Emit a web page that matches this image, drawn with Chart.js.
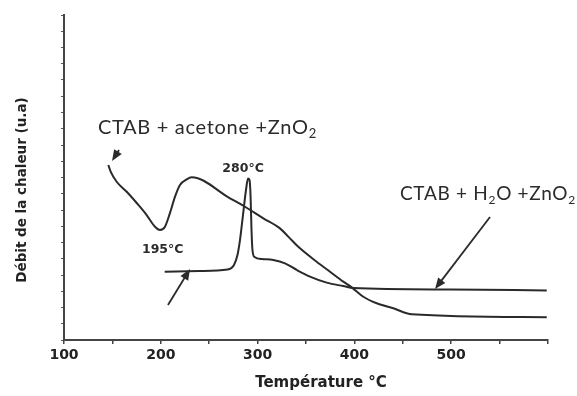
<!DOCTYPE html>
<html>
<head>
<meta charset="utf-8">
<script src="https://cdn.jsdelivr.net/npm/chart.js@4/dist/chart.umd.min.js"></script>
<style>
  body { margin: 0; background: #fff; }
  #wrap { width: 577px; height: 396px; }
</style>
</head>
<body>
<div id="wrap"><canvas id="myChart" width="577" height="396"></canvas></div>
<script>
// temperature (°C) and heat flow (a.u.)
const tempAcetone = [145.8, 148.2, 154.4, 164.8, 175.1, 185.4, 194.0, 199.2, 204.3, 209.5, 214.7, 219.8, 226.8, 231.9, 271.5, 287.0, 305.9, 323.1, 331.7, 343.8, 361.0, 374.8, 388.5, 397.2, 409.2, 423.0, 440.2, 459.2, 598.7]
const heatAcetone = [10.77, 10.36, 9.74, 9.12, 8.43, 7.69, 6.97, 6.77, 6.97, 7.82, 8.82, 9.54, 9.89, 10.01, 8.72, 8.20, 7.49, 6.87, 6.36, 5.64, 4.82, 4.20, 3.59, 3.24, 2.66, 2.26, 1.95, 1.58, 1.40]

const tempWater = [204.0, 240.0, 269.0, 275.6, 279.2, 281.8, 284.9, 288.0, 290.1, 291.6, 292.7, 293.7, 294.7, 296.8, 304.5, 316.2, 328.3, 340.4, 354.1, 371.4, 388.5, 398.9, 498.8, 598.7]
const heatWater = [4.20, 4.25, 4.34, 4.62, 5.23, 6.15, 7.69, 9.23, 9.94, 9.85, 8.92, 6.77, 5.54, 5.11, 4.98, 4.92, 4.72, 4.31, 3.90, 3.53, 3.32, 3.20, 3.11, 3.05]

const xTickLabels = ['100', '200', '300', '400', '500']

// labels and arrows placed in data units
const labels = [
  { parts: [['CTAB + acetone +ZnO', 0], ['2', 1]], x: 135, y: 12.68, size: 20 },
  { parts: [['CTAB + H', 0], ['2', 1], ['O +ZnO', 0], ['2', 1]], x: 447, y: 8.62, size: 19 },
  { parts: [['280°C', 0]], x: 285, y: 10.35, bold: true, center: true },
  { parts: [['195°C', 0]], x: 202, y: 5.35, bold: true, center: true }
]
const arrows = [
  { from: [156.8, 11.69], to: [149.6, 11.02] },
  { from: [207.4, 2.15], to: [230.2, 4.37] },
  { from: [540.1, 7.57], to: [483.3, 3.14] }
]

const toPoints = (xs, ys) => xs.map((x, i) => ({ x: x, y: ys[i] }))

const notesPlugin = {
  id: 'notes',
  afterDatasetsDraw(chart) {
    const ctx = chart.ctx
    const sx = chart.scales.x
    const sy = chart.scales.y
    ctx.save()
    ctx.fillStyle = '#2b2b2b'
    ctx.strokeStyle = '#2b2b2b'

    labels.forEach((lb) => {
      const big = lb.bold ? 'bold 12.5px "DejaVu Sans"' : lb.size + 'px Lato'
      const small = lb.bold ? 'bold 9px "DejaVu Sans"' : Math.round(lb.size * 0.65) + 'px Lato'
      ctx.letterSpacing = lb.bold ? '0px' : '0.7px'
      let total = 0
      lb.parts.forEach((p) => {
        ctx.font = p[1] ? small : big
        total += ctx.measureText(p[0]).width
      })
      let px = sx.getPixelForValue(lb.x)
      if (lb.center) px -= total / 2
      const py = sy.getPixelForValue(lb.y)
      ctx.textBaseline = 'alphabetic'
      ctx.textAlign = 'left'
      lb.parts.forEach((p) => {
        ctx.font = p[1] ? small : big
        ctx.fillText(p[0], px, py + (p[1] ? 4 : 0))
        px += ctx.measureText(p[0]).width
      })
    })
    ctx.letterSpacing = '0px'

    arrows.forEach((a) => {
      const x1 = sx.getPixelForValue(a.from[0])
      const y1 = sy.getPixelForValue(a.from[1])
      const x2 = sx.getPixelForValue(a.to[0])
      const y2 = sy.getPixelForValue(a.to[1])
      const ang = Math.atan2(y2 - y1, x2 - x1)
      ctx.lineWidth = 1.8
      ctx.beginPath()
      ctx.moveTo(x1, y1)
      ctx.lineTo(x2 - 8 * Math.cos(ang), y2 - 8 * Math.sin(ang))
      ctx.stroke()
      ctx.beginPath()
      ctx.moveTo(x2, y2)
      ctx.lineTo(x2 - 11 * Math.cos(ang) + 4.5 * Math.sin(ang), y2 - 11 * Math.sin(ang) - 4.5 * Math.cos(ang))
      ctx.lineTo(x2 - 11 * Math.cos(ang) - 4.5 * Math.sin(ang), y2 - 11 * Math.sin(ang) + 4.5 * Math.cos(ang))
      ctx.closePath()
      ctx.fill()
    })

    // axis titles
    ctx.fillStyle = '#222'
    ctx.font = 'bold 15px "DejaVu Sans"'
    ctx.textAlign = 'center'
    ctx.textBaseline = 'middle'
    ctx.fillText('Température °C', 321, 383)
    ctx.translate(22, 190)
    ctx.rotate(-Math.PI / 2)
    ctx.font = 'bold 13.5px "DejaVu Sans"'
    ctx.fillText('Débit de la chaleur (u.a)', 0, 0)
    ctx.restore()
  }
}

var ctx = document.getElementById('myChart').getContext('2d')
var chart = new Chart(ctx, {
  type: 'line',
  data: {
    datasets: [{
      label: 'CTAB + acetone + ZnO2',
      data: toPoints(tempAcetone, heatAcetone),
      borderColor: '#2a2a2a',
      borderWidth: 2,
      pointRadius: 0,
      cubicInterpolationMode: 'monotone',
      fill: false
    },
    {
      label: 'CTAB + H2O + ZnO2',
      data: toPoints(tempWater, heatWater),
      borderColor: '#2a2a2a',
      borderWidth: 2,
      pointRadius: 0,
      cubicInterpolationMode: 'monotone',
      fill: false
    }]
  },
  options: {
    responsive: false,
    animation: false,
    layout: { padding: { top: 15, right: 29, left: 0, bottom: 0 } },
    plugins: { legend: { display: false }, tooltip: { enabled: false } },
    scales: {
      x: {
        type: 'linear',
        min: 100,
        max: 600,
        afterFit: (scale) => { scale.height = 56 },
        border: { display: true, color: '#444', width: 2 },
        grid: { drawOnChartArea: false, tickLength: 4, color: '#444', lineWidth: 1.5 },
        ticks: {
          stepSize: 50,
          autoSkip: false,
          maxRotation: 0,
          padding: 3,
          color: '#222',
          font: { family: 'DejaVu Sans', weight: 'bold', size: 14 },
          callback: (v) => xTickLabels.includes(String(v)) ? String(v) : ''
        }
      },
      y: {
        min: 0,
        max: 20,
        afterFit: (scale) => { scale.width = 64 },
        border: { display: true, color: '#444', width: 2 },
        grid: { drawOnChartArea: false, tickLength: 3, color: '#555', lineWidth: 1 },
        ticks: { stepSize: 1, display: false }
      }
    }
  },
  plugins: [notesPlugin]
})
</script>
</body>
</html>
